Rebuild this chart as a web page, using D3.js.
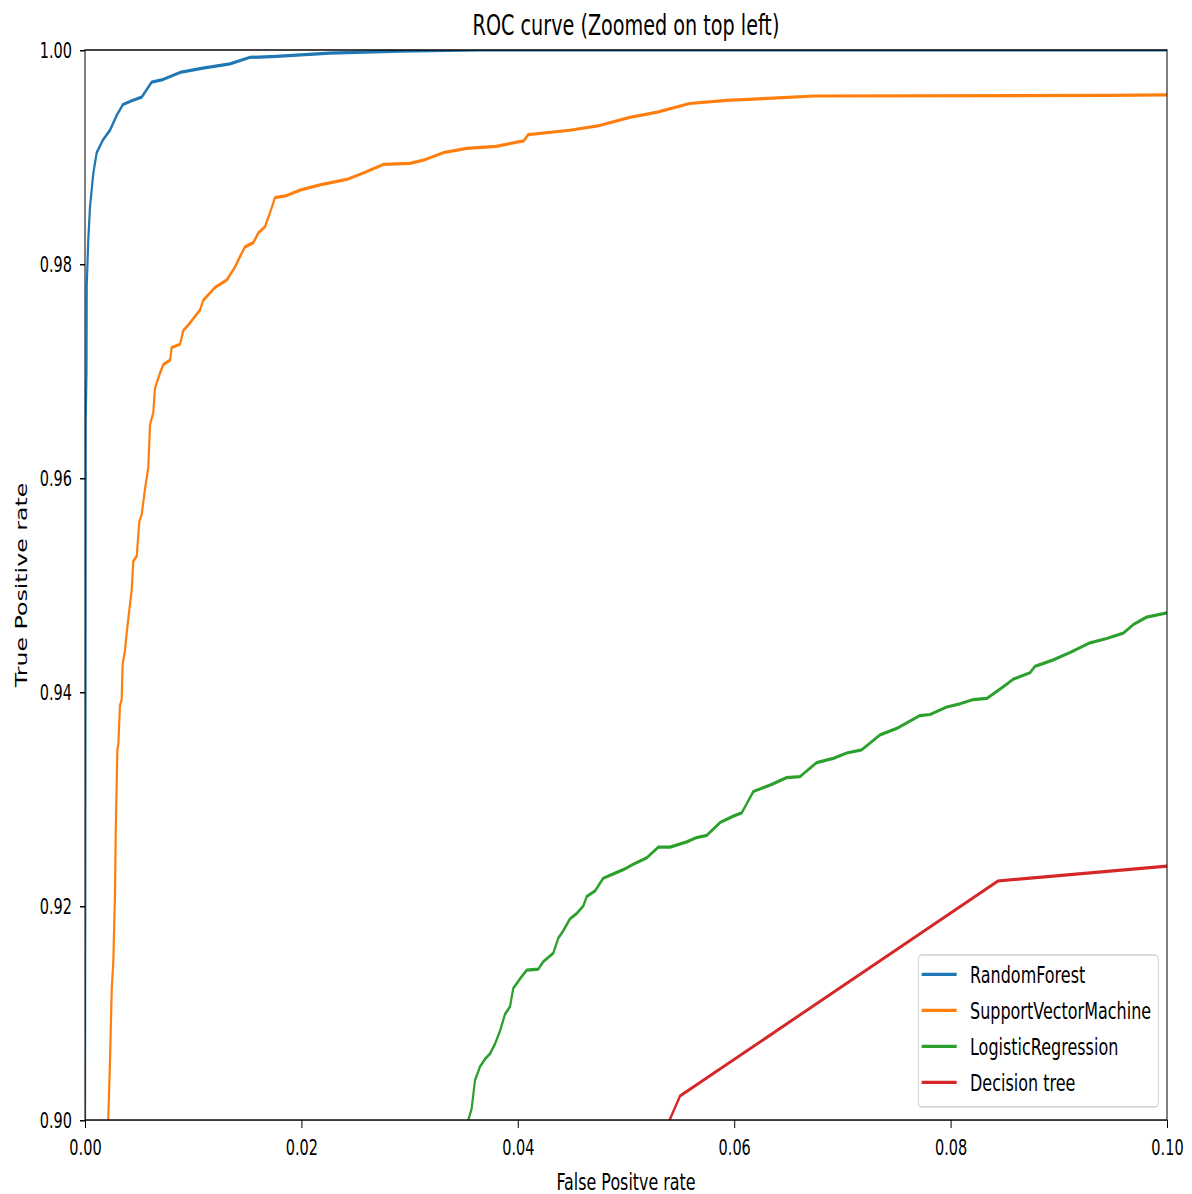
<!DOCTYPE html>
<html>
<head>
<meta charset="utf-8">
<script src="https://cdn.jsdelivr.net/npm/d3@7"></script>
<style>
    body { margin: 0; background: #fff; }
    svg { display: block; }
</style>
</head>
<body>
<div id="chart"></div>
<script>
// values, [false positive rate, true positive rate]
const seriesNames = ["RandomForest", "SupportVectorMachine", "LogisticRegression", "Decision tree"];
const seriesColors = ["#1f77b4", "#ff7f0e", "#2ca02c", "#d62728"];
const xTicks = [0, 0.02, 0.04, 0.06, 0.08, 0.10];
const yTicks = [0.90, 0.92, 0.94, 0.96, 0.98, 1.00];

const randomForest = [
    [0, 0.899], [0.00005, 0.94], [0.00007, 0.9655], [0.00014, 0.970], [0.00016, 0.978],
    [0.0003, 0.9822], [0.00046, 0.9853], [0.00077, 0.9885], [0.00108, 0.9904], [0.00166, 0.9916],
    [0.00231, 0.9925], [0.00293, 0.9939], [0.00351, 0.9949], [0.00444, 0.9953], [0.00524, 0.9956],
    [0.00616, 0.9970], [0.00709, 0.9972], [0.00878, 0.9979], [0.0109, 0.9983], [0.0134, 0.9987],
    [0.0152, 0.9993], [0.0177, 0.9994], [0.0226, 0.9997], [0.0291, 0.9999], [0.0365, 1.0], [0.1, 1.0]
];

const supportVector = [
    [0.00212, 0.899], [0.00215, 0.9001], [0.00231, 0.9055], [0.00247, 0.9122], [0.00262, 0.9149],
    [0.00277, 0.9211], [0.00284, 0.9268], [0.00299, 0.9346], [0.00308, 0.9351], [0.00323, 0.9387],
    [0.00339, 0.9393], [0.00348, 0.9426], [0.0037, 0.9439], [0.00385, 0.9455], [0.00409, 0.9476],
    [0.00432, 0.9496], [0.00446, 0.9522], [0.00478, 0.9527], [0.00502, 0.9559], [0.00524, 0.9566],
    [0.00555, 0.9590], [0.00585, 0.9610], [0.00601, 0.9650], [0.00631, 0.9661], [0.00647, 0.9684],
    [0.00693, 0.9698], [0.00724, 0.9706], [0.00786, 0.9710], [0.00801, 0.9722], [0.00878, 0.9725],
    [0.00909, 0.9738], [0.00955, 0.9743], [0.01063, 0.9757], [0.01093, 0.9766], [0.01201, 0.9778],
    [0.0131, 0.9785], [0.01386, 0.9797], [0.01433, 0.9807], [0.01479, 0.9816], [0.01556, 0.9820],
    [0.01602, 0.9829], [0.01664, 0.9835], [0.0171, 0.9848], [0.01756, 0.9862], [0.01864, 0.9864],
    [0.01987, 0.9869], [0.02172, 0.9874], [0.02419, 0.9879], [0.02572, 0.9885], [0.02757, 0.9893],
    [0.03004, 0.9894], [0.03127, 0.9897], [0.03311, 0.9904], [0.03528, 0.9908], [0.03799, 0.9910],
    [0.04054, 0.9915], [0.04097, 0.9921], [0.04481, 0.9925], [0.04737, 0.9929], [0.05034, 0.9937],
    [0.0529, 0.9942], [0.05588, 0.9950], [0.05929, 0.9953], [0.06355, 0.9955], [0.06738, 0.9957],
    [0.09464, 0.99575], [0.1, 0.9958]
];

const logistic = [
    [0.0353, 0.899], [0.03543, 0.9], [0.03574, 0.9011], [0.03604, 0.9037], [0.03651, 0.9050],
    [0.03697, 0.9057], [0.03743, 0.9062], [0.03789, 0.9071], [0.03835, 0.9083], [0.03882, 0.9099],
    [0.03928, 0.9106], [0.03958, 0.9123], [0.0402, 0.9132], [0.04082, 0.9140], [0.04189, 0.9141],
    [0.04236, 0.9148], [0.04282, 0.9152], [0.04328, 0.9156], [0.04374, 0.9170], [0.04421, 0.9177],
    [0.04482, 0.9188], [0.04544, 0.9193], [0.04605, 0.9200], [0.04637, 0.9209], [0.04713, 0.9214],
    [0.0479, 0.9226], [0.04883, 0.9230], [0.04975, 0.9234], [0.05067, 0.9239], [0.05191, 0.9245],
    [0.05299, 0.9255], [0.05407, 0.9255], [0.05561, 0.9260], [0.05653, 0.9264], [0.05746, 0.9266],
    [0.05869, 0.9278], [0.05992, 0.9284], [0.06069, 0.9287], [0.06177, 0.9307], [0.06331, 0.9313],
    [0.06485, 0.9320], [0.06608, 0.9321], [0.06762, 0.9334], [0.06916, 0.9338], [0.0704, 0.9343],
    [0.07178, 0.9346], [0.07348, 0.9360], [0.07502, 0.9366], [0.07717, 0.9378], [0.0781, 0.9379],
    [0.07964, 0.9386], [0.08087, 0.9389], [0.0821, 0.9393], [0.08334, 0.9394], [0.08487, 0.9405],
    [0.0858, 0.9412], [0.08734, 0.9418], [0.0878, 0.9424], [0.08949, 0.9430], [0.09104, 0.9437],
    [0.09288, 0.9446], [0.09443, 0.9450], [0.09596, 0.9455], [0.09689, 0.9463], [0.09812, 0.9470],
    [0.1, 0.9474]
];

const decisionTree = [
    [0.0536, 0.899], [0.05499, 0.90224], [0.08438, 0.92234], [0.1, 0.92374]
];

const curves = [randomForest, supportVector, logistic, decisionTree];

drawRoc();

function drawRoc() {
    // the picture is stretched vertically, so draw in a shorter box and let the svg stretch it
    const W = 1192, H = 812;
    const margin = {top: 34, right: 25, bottom: 50.3, left: 85},
        width = W - margin.left - margin.right,
        height = H - margin.top - margin.bottom;

    const svg = d3.select("#chart")
        .append("svg")
        .attr("width", 1192)
        .attr("height", 1194)
        .attr("viewBox", `0 0 ${W} ${H}`)
        .attr("preserveAspectRatio", "none")
        .style("font-family", "'DejaVu Sans', sans-serif");

    const g = svg.append("g")
        .attr("transform", `translate(${margin.left},${margin.top})`);

    const xScale = d3.scaleLinear().domain([0, 0.1]).range([0, width]);
    const yScale = d3.scaleLinear().domain([0.9, 1.0]).range([height, 0]);

    g.append("clipPath").attr("id", "plot-clip")
        .append("rect").attr("width", width).attr("height", height);

    // lines
    const line = d3.line()
        .x(d => xScale(d[0]))
        .y(d => yScale(d[1]));

    g.append("g").attr("clip-path", "url(#plot-clip)")
        .selectAll(".curve")
        .data(curves)
        .join("path")
        .attr("class", "curve")
        .attr("fill", "none")
        .attr("stroke", (d, i) => seriesColors[i])
        .attr("stroke-width", 2.2)
        .attr("stroke-linejoin", "round")
        .attr("d", line);

    // axes
    const xAxis = d3.axisBottom(xScale).tickValues(xTicks).tickFormat(d3.format(".2f"))
        .tickSize(5.4).tickPadding(8);
    const yAxis = d3.axisLeft(yScale).tickValues(yTicks).tickFormat(d3.format(".2f"))
        .tickSize(5).tickPadding(8);

    const xg = g.append("g").attr("transform", `translate(0,${height})`).call(xAxis);
    const yg = g.append("g").call(yAxis);
    [xg, yg].forEach(a => {
        a.select(".domain").remove();
        a.attr("font-size", 14.5).attr("font-family", "'DejaVu Sans', sans-serif");
        a.selectAll(".tick line").attr("stroke", "#000").attr("stroke-width", 1);
        a.selectAll(".tick text").attr("fill", "#000");
    });

    // frame
    g.append("rect")
        .attr("width", width).attr("height", height)
        .attr("fill", "none").attr("stroke", "#000").attr("stroke-width", 1);

    // labels
    svg.append("text")
        .attr("x", margin.left + width / 2).attr("y", 24)
        .attr("text-anchor", "middle").attr("font-size", 19.2)
        .text("ROC curve (Zoomed on top left)");

    svg.append("text")
        .attr("x", margin.left + width / 2).attr("y", 809)
        .attr("text-anchor", "middle").attr("font-size", 15.9)
        .text("False Positve rate");

    svg.append("text")
        .attr("transform", `translate(26.5,${margin.top + height / 2}) rotate(-90)`)
        .attr("text-anchor", "middle").attr("font-size", 16.1)
        .text("True Positive rate");

    // legend
    const legend = svg.append("g").attr("transform", "translate(918.3,649.5)");
    legend.append("rect")
        .attr("width", 240).attr("height", 103.2).attr("rx", 3)
        .attr("fill", "#fff").attr("fill-opacity", 0.8)
        .attr("stroke", "#d0d0d0").attr("stroke-width", 1);

    const item = legend.selectAll(".item")
        .data(seriesNames)
        .join("g")
        .attr("class", "item")
        .attr("transform", (d, i) => `translate(0,${13.1 + i * 24.5})`);

    item.append("line")
        .attr("x1", 3.4).attr("x2", 38.4)
        .attr("stroke", (d, i) => seriesColors[i])
        .attr("stroke-width", 2.2);

    item.append("text")
        .attr("x", 51.7).attr("dy", "0.36em")
        .attr("font-size", 16)
        .text(d => d);
}
</script>
</body>
</html>
